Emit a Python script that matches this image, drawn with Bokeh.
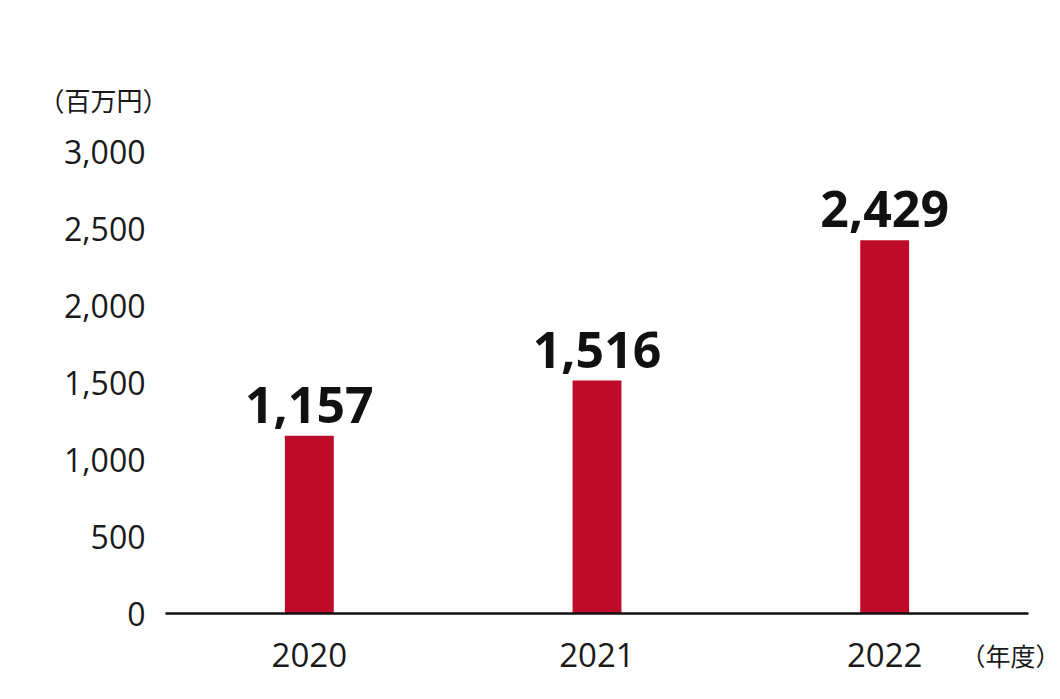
from bokeh.plotting import figure
from bokeh.models import ColumnDataSource, FixedTicker, NumeralTickFormatter, Range1d, FactorRange, Title
from bokeh.core.properties import value
from bokeh.embed import file_html
from bokeh.resources import INLINE

years = ["2020", "2021", "2022"]
amounts = [1157, 1516, 2429]
amount_labels = ["1,157", "1,516", "2,429"]
y_ticks = [0, 500, 1000, 1500, 2000, 2500, 3000]
unit_label = "（百万円）"
year_unit_label = "（年度）"

src = ColumnDataSource(dict(year=years, amount=amounts, label=amount_labels))

p = figure(x_range=FactorRange(*years, range_padding=0), y_range=Range1d(0, 3208),
           width=1060, height=699, output_backend="svg", toolbar_location=None,
           min_border_left=165, min_border_right=32, min_border_top=120, min_border_bottom=86)
p.outline_line_color = None
p.background_fill_color = "white"
p.border_fill_color = "white"
p.xgrid.grid_line_color = None
p.ygrid.grid_line_color = None

p.vbar(x="year", top="amount", width=0.17, source=src, fill_color="#BE0B28", line_color=None)

p.text(x="year", y="amount", text="label", source=src, text_align="center",
       text_baseline="alphabetic", y_offset=-31, text_font=value("Open Sans"),
       text_font_style="bold", text_font_size="50px", text_color="#111111")

p.yaxis.ticker = FixedTicker(ticks=y_ticks)
p.yaxis.formatter = NumeralTickFormatter(format="0,0")
p.yaxis.axis_line_color = None
p.yaxis.major_tick_line_color = None
p.yaxis.minor_tick_line_color = None
p.yaxis.major_label_text_font = "Open Sans"
p.yaxis.major_label_text_font_size = "32px"
p.yaxis.major_label_text_color = "#1a1a1a"
p.yaxis.major_label_standoff = 14

p.xaxis.axis_line_color = "#111111"
p.xaxis.axis_line_width = 2.5
p.xaxis.major_tick_line_color = None
p.xaxis.minor_tick_line_color = None
p.xaxis.major_label_text_font = "Open Sans"
p.xaxis.major_label_text_font_size = "33px"
p.xaxis.major_label_text_color = "#1a1a1a"
p.xaxis.major_label_standoff = 23

p.add_layout(Title(text=unit_label, align="left", offset=-127, standoff=6,
                   text_font="Noto Sans CJK JP", text_font_size="26px",
                   text_font_style="normal", text_color="#1a1a1a"), "above")
p.add_layout(Title(text=year_unit_label, align="right", vertical_align="top", offset=-32, standoff=-66,
                   text_font="Noto Sans CJK JP", text_font_size="25px",
                   text_font_style="normal", text_color="#1a1a1a"), "below")

open("out.html", "w").write(file_html(p, INLINE))
